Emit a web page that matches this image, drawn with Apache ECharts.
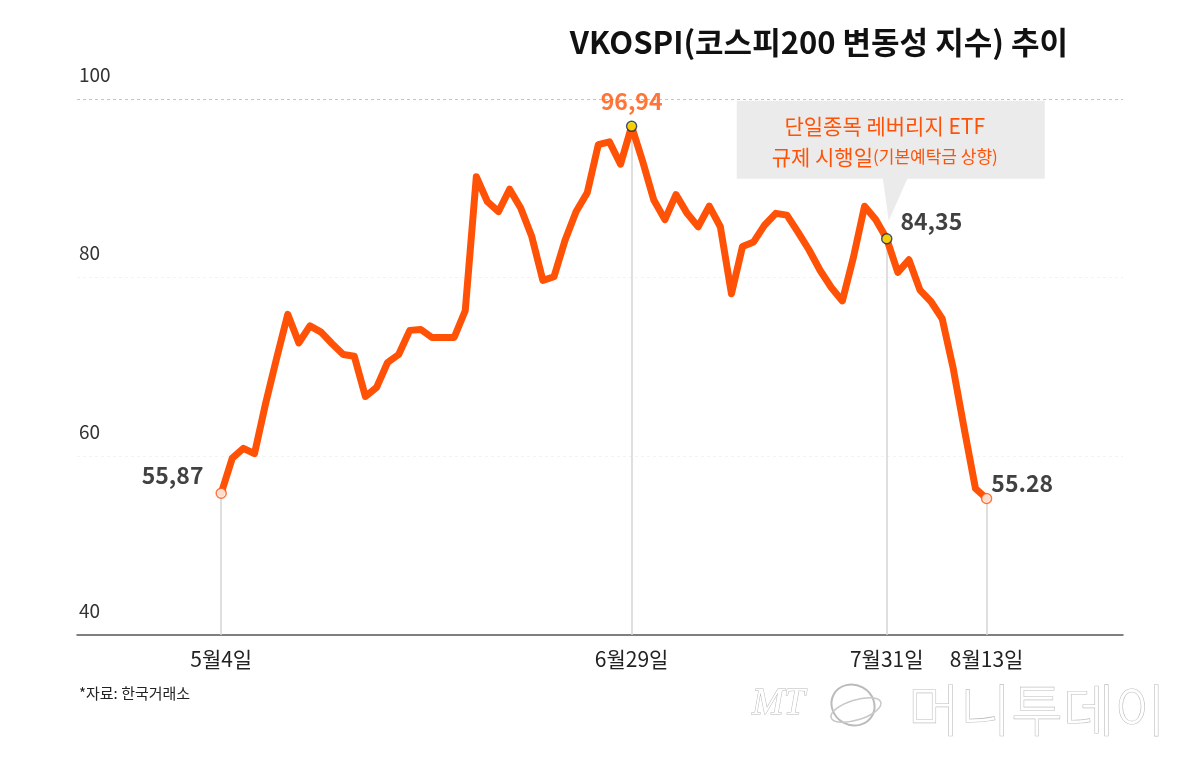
<!DOCTYPE html>
<html>
<head>
<meta charset="utf-8">
<script src="https://cdn.jsdelivr.net/npm/echarts@6.0.0/dist/echarts.min.js"></script>
<style>
html,body{margin:0;padding:0;background:#fff;}
#main{width:1200px;height:759px;}
</style>
</head>
<body>
<div id="main"></div>
<script>
// ---- data ----
const values = [
  55.87, 59.8, 60.9, 60.3, 65.9, 71.0, 75.9, 72.7, 74.6, 73.9,
  72.6, 71.4, 71.2, 66.7, 67.7, 70.5, 71.4, 74.1, 74.2, 73.3,
  73.3, 73.3, 76.3, 91.3, 88.5, 87.4, 89.9, 87.8, 84.6, 79.7,
  80.1, 84.2, 87.4, 89.5, 94.9, 95.2, 92.7, 96.94, 93.0, 88.7,
  86.5, 89.3, 87.2, 85.7, 88.0, 85.7, 78.2, 83.5, 84.0, 85.9,
  87.2, 87.0, 85.1, 83.1, 80.8, 78.9, 77.4, 82.3, 88.0, 86.5,
  84.35, 80.6, 82.0, 78.6, 77.3, 75.4, 69.8, 63.0, 56.4, 55.28
];
const tickIndex = [0, 37, 60, 69];
const tickLabels = ['5월4일', '6월29일', '7월31일', '8월13일'];
const yTicks = [40, 60, 80, 100];
const pointLabels = {0: '55,87', 37: '96,94', 60: '84,35', 69: '55.28'};
const endIdx = [0, 69];          // hollow markers
const keyIdx = [37, 60];         // yellow markers
const title = 'VKOSPI(코스피200 변동성 지수) 추이';
const noteLine1 = '단일종목 레버리지 ETF';
const noteLine2a = '규제 시행일';
const noteLine2b = '(기본예탁금 상향)';
const source = '*자료: 한국거래소';

const NUM = "'Liberation Sans Narrow','Noto Sans CJK KR',sans-serif";
const KR = "'Noto Sans CJK KR',sans-serif";
const ORANGE = '#ff5206';

const lineData = values.map((v, i) => [i, v]);

const labelCfg = {
  0:  {position: 'left', distance: 12, offset: [0, -18], color: '#111'},
  37: {position: 'top', distance: 8, offset: [0, 0], color: ORANGE},
  60: {position: 'right', distance: 8, offset: [0, -18], color: '#111'},
  69: {position: 'right', distance: 2, offset: [-3, -15], color: '#111'}
};

function pointItem(i, style) {
  const lc = labelCfg[i];
  return {
    value: [i, values[i]],
    itemStyle: style,
    label: {
      show: true,
      position: lc.position,
      distance: lc.distance,
      offset: lc.offset,
      color: lc.color,
      fontFamily: NUM,
      fontSize: 23,
      fontWeight: 'bold',
      formatter: () => pointLabels[i]
    }
  };
}

const chart = echarts.init(document.getElementById('main'), null, {renderer: 'canvas'});

const option = {
  backgroundColor: '#fff',
  animation: false,
  title: {
    text: title,
    right: 127,
    top: 22,
    textStyle: {fontFamily: NUM, fontSize: 31, fontWeight: 'bold', color: '#111'}
  },
  grid: {left: 77, right: 77, top: 99, bottom: 124},
  xAxis: {
    type: 'value',
    min: -13,
    max: 81.3,
    axisLine: {show: true, lineStyle: {color: '#555', width: 1.5}},
    axisTick: {show: false},
    splitLine: {show: false},
    axisLabel: {
      customValues: tickIndex,
      margin: 14,
      color: '#222',
      fontFamily: NUM,
      fontSize: 21,
      formatter: v => tickLabels[tickIndex.indexOf(Math.round(v))] || ''
    }
  },
  yAxis: {
    type: 'value',
    min: 40,
    max: 100,
    interval: 20,
    axisLine: {show: false},
    axisTick: {show: false},
    splitLine: {
      show: true,
      lineStyle: {type: [3, 3], width: 1, color: ['rgba(0,0,0,0)', '#f3f3f3', '#f3f3f3', '#c4c4c4']}
    },
    axisLabel: {
      inside: true,
      margin: 2,
      verticalAlign: 'bottom',
      padding: [0, 0, 15, 0],
      color: '#333',
      fontFamily: NUM,
      fontSize: 19,
      formatter: v => yTicks.indexOf(v) >= 0 ? String(v) : ''
    }
  },
  series: [
    {
      type: 'line',
      data: lineData,
      showSymbol: false,
      silent: true,
      z: 3,
      lineStyle: {color: ORANGE, width: 7, join: 'round', cap: 'round'},
      markLine: {
        silent: true,
        symbol: 'none',
        label: {show: false},
        lineStyle: {color: '#d4d4d4', width: 1.5, type: 'solid'},
        z: 1,
        data: tickIndex.map(i => [{coord: [i, values[i]]}, {coord: [i, 40]}])
      }
    },
    {
      type: 'scatter',
      z: 5,
      symbolSize: 10,
      silent: true,
      data: [
        ...endIdx.map(i => pointItem(i, {color: '#fff', borderColor: ORANGE, borderWidth: 1.5})),
        ...keyIdx.map(i => pointItem(i, {color: '#f7ec00', borderColor: '#1c2452', borderWidth: 1.5}))
      ]
    }
  ]
};

chart.setOption(option);

// annotation anchored to the 7/31 point
const p = chart.convertToPixel({xAxisIndex: 0, yAxisIndex: 0}, [60, values[60]]);
const px = p[0], py = p[1];

chart.setOption({
  graphic: [
    {
      type: 'rect', z: 0, silent: true,
      shape: {x: px - 150, y: py - 138, width: 308, height: 78},
      style: {fill: '#ebebeb'}
    },
    {
      type: 'polygon', z: 0, silent: true,
      shape: {points: [[px - 4, py - 61], [px + 21, py - 61], [px + 2, py - 18]]},
      style: {fill: '#ebebeb'}
    },
    {
      type: 'text', z: 10, silent: true,
      x: px - 2, y: py - 113,
      style: {text: noteLine1, fill: ORANGE, font: "21px " + KR, align: 'center', verticalAlign: 'middle'}
    },
    {
      type: 'text', z: 10, silent: true,
      x: px - 2, y: py - 82,
      style: {
        text: '{a|' + noteLine2a + '}{b|' + noteLine2b + '}',
        align: 'center', verticalAlign: 'middle',
        rich: {
          a: {fill: ORANGE, fontFamily: KR, fontSize: 21},
          b: {fill: ORANGE, fontFamily: KR, fontSize: 17}
        }
      }
    },
    {
      type: 'text', silent: true,
      left: 79, top: 686,
      style: {text: source, fill: '#222', font: "15px " + KR}
    },
    // watermark logo
    {
      type: 'text', silent: true,
      x: 752, y: 704,
      style: {text: 'MT', fill: '#fff', stroke: '#b8b8b8', lineWidth: 1, font: "italic 38px 'Liberation Serif',serif", verticalAlign: 'middle'}
    },
    {
      type: 'ellipse', silent: true,
      shape: {cx: 853, cy: 705, rx: 22, ry: 20},
      rotation: -0.5, originX: 853, originY: 705,
      style: {fill: 'none', stroke: '#bbb', lineWidth: 2}
    },
    {
      type: 'ellipse', silent: true,
      shape: {cx: 856, cy: 710, rx: 26, ry: 10},
      rotation: 0.3, originX: 856, originY: 710,
      style: {fill: 'none', stroke: '#c8c8c8', lineWidth: 1.5}
    },
    {
      type: 'text', silent: true,
      x: 1037, y: 710,
      style: {text: '머니투데이', fill: '#fff', stroke: '#bdbdbd', lineWidth: 1.2, font: "300 56px " + KR, align: 'center', verticalAlign: 'middle'}
    }
  ]
});
</script>
</body>
</html>
